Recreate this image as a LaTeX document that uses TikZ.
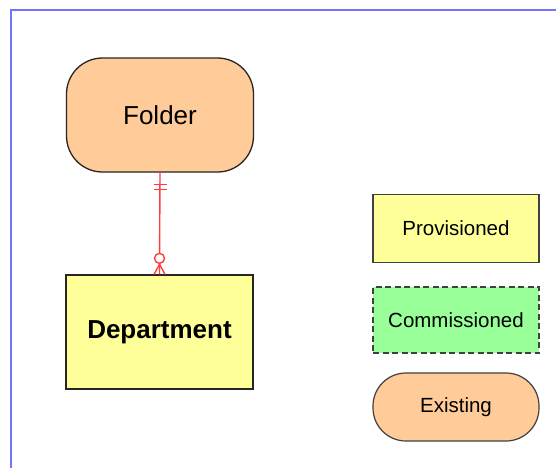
\documentclass[tikz,border=0pt]{standalone}
\usepackage{fontspec}
\setmainfont{Liberation Sans}
\begin{document}
\begin{tikzpicture}[x=1pt,y=-1pt,
  ent/.style={draw=black!85, line width=1.3pt, minimum width=187pt, minimum height=114pt, inner sep=0pt},
  leg/.style={draw=black!75, line width=1.2pt, minimum width=166pt, minimum height=68pt, inner sep=0pt, font=\fontsize{20.5}{24}\selectfont},
  rel/.style={draw={rgb,255:red,255;green,60;blue,60}, line width=1.4pt}]
\useasboundingbox (0,0) rectangle (556,467);
\fill[white] (0,0) rectangle (556,467);
\draw[blue!55, line width=2.2pt] (11,480) -- (11,10) -- (570,10);
\node[ent, fill={rgb,255:red,255;green,204;blue,153}, rounded corners=36pt, font=\fontsize{26}{30}\selectfont] (folder) at (160,115) {Folder};
\node[ent, fill={rgb,255:red,255;green,255;blue,153}, font=\bfseries\fontsize{26}{30}\selectfont] (dept) at (159.5,332) {Department};
\node[leg, fill={rgb,255:red,255;green,255;blue,153}] (prov) at (456,228.5) {Provisioned};
\node[leg, fill={rgb,255:red,153;green,255;blue,153}, dashed, dash pattern=on 6pt off 3.5pt, minimum height=66pt] (comm) at (456,320) {Commissioned};
\node[leg, fill={rgb,255:red,255;green,204;blue,153}, rounded corners=33pt] (exist) at (456,407) {Existing};
\draw[rel] (folder.south) -- (dept.north);
\draw[rel] (folder.south) ++(-6.5,12) -- ++(13,0);
\draw[rel] (folder.south) ++(-6.5,17) -- ++(13,0);
\draw[rel] (dept.north) ++(-5.5,0) -- ++(5.5,-10) -- ++(5.5,10);
\draw[rel, fill=white] (dept.north) ++(0,-16) circle (5pt);
\end{tikzpicture}
\end{document}
